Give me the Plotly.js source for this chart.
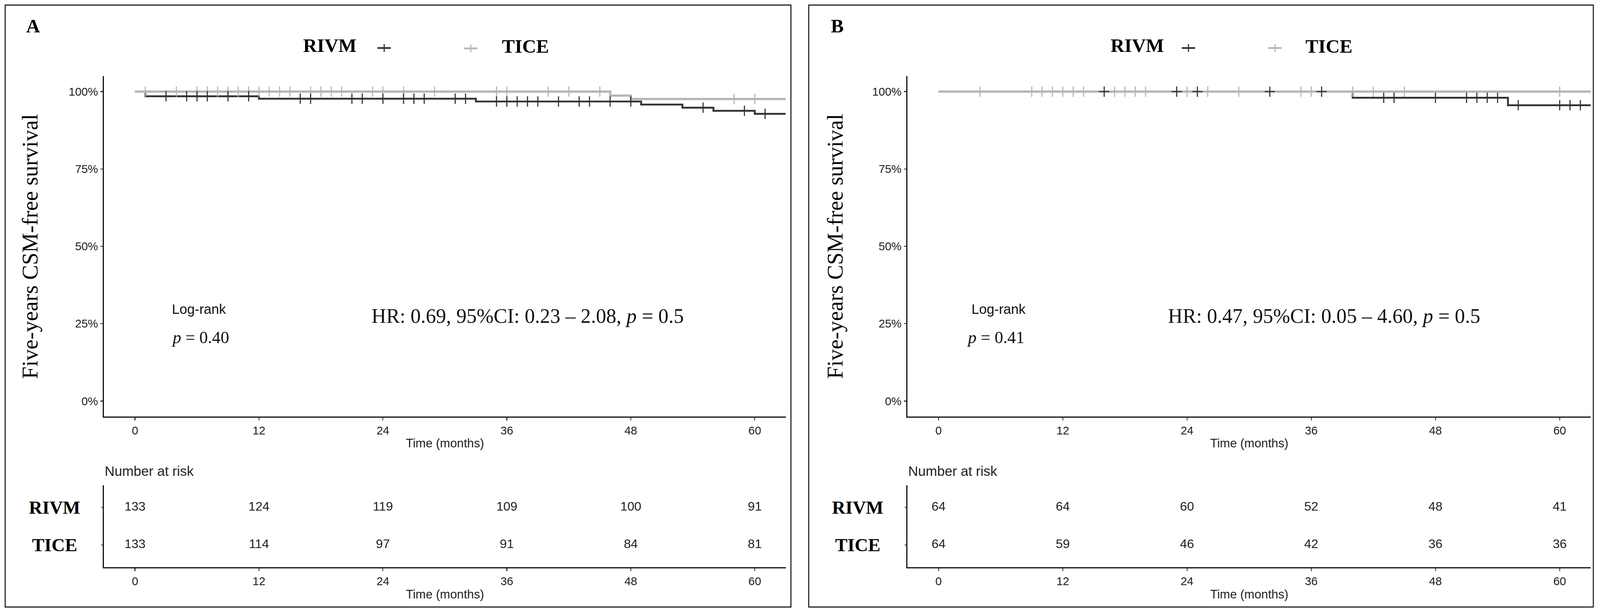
<!DOCTYPE html>
<html>
<head>
<meta charset="utf-8">
<script src="https://cdn.plot.ly/plotly-3.0.1.min.js"></script>
<style>html,body{margin:0;padding:0;background:#fff;overflow:hidden;}#chart{width:100vw;height:100vh;}</style>
</head>
<body>
<div id="chart"></div>
<script>
// ---------------- DATA ----------------
const groups = ["RIVM", "TICE"];
const tickMonths = [0, 12, 24, 36, 48, 60];

// Panel A: Kaplan-Meier steps (time in months, survival proportion)
const aRivmTimes = [0, 1, 12, 33, 49, 53, 56, 60, 63];
const aRivmSurv  = [1, 0.985, 0.977, 0.968, 0.958, 0.948, 0.938, 0.928, 0.928];
const aTiceTimes = [0, 46, 48, 63];
const aTiceSurv  = [1, 0.987, 0.976, 0.976];
const aRivmCensor = [3, 5, 6, 7, 9, 11, 16, 17, 21, 22, 24, 26, 27, 28, 31, 32, 35, 36, 37, 38, 39, 41, 43, 44, 46, 48, 55, 59, 61];
const aTiceCensor = [1, 4, 6, 7, 8, 9, 10, 11, 12, 13, 14, 15, 17, 18, 19, 20, 23, 24, 26, 29, 35, 36, 40, 42, 45, 58, 60];
const aRiskRivm = [133, 124, 119, 109, 100, 91];
const aRiskTice = [133, 114, 97, 91, 84, 81];
const aLogrank = "0.40";
const aHR = "HR: 0.69, 95%CI: 0.23 \u2013 2.08, <i>p</i> = 0.5";

// Panel B
const bRivmTimes = [0, 40, 55, 63];
const bRivmSurv  = [1, 0.980, 0.956, 0.956];
const bTiceTimes = [0, 63];
const bTiceSurv  = [1, 1];
const bRivmCensor = [16, 23, 25, 32, 37, 43, 44, 48, 51, 52, 53, 54, 56, 60, 61, 62];
const bTiceCensor = [4, 9, 10, 11, 12, 13, 14, 17, 18, 19, 20, 24, 26, 29, 35, 36, 40, 42, 45, 60];
const bRiskRivm = [64, 64, 60, 52, 48, 41];
const bRiskTice = [64, 59, 46, 42, 36, 36];
const bLogrank = "0.41";
const bHR = "HR: 0.47, 95%CI: 0.05 \u2013 4.60, <i>p</i> = 0.5";

// ---------------- STYLE ----------------
const RW = 4323, RH = 1578;               // reference design size
const W = window.innerWidth || RW;
const H = window.innerHeight || RH;
const S = Math.min(W / RW, H / RH);       // scale for fonts / strokes
const f = v => v * S;
const px = x => x / RW;
const py = y => 1 - y / RH;
const DARK = "#333333", LIGHT = "#b5b5b5";
const SANS = "Liberation Sans, Arial, sans-serif";
const SERIF = "Liberation Serif, Times New Roman, serif";

function survAt(times, surv, t) {
  let s = surv[0];
  for (let i = 0; i < times.length; i++) if (times[i] <= t) s = surv[i];
  return s;
}

function panelTraces(xa, ya, xt, yt, rT, rS, tT, tS, rC, tC, riskR, riskT) {
  const tr = [];
  tr.push({type: "scatter", mode: "lines", x: rT, y: rS, xaxis: xa, yaxis: ya,
    line: {shape: "hv", color: DARK, width: f(5)}, hoverinfo: "skip", showlegend: false});
  tr.push({type: "scatter", mode: "lines", x: tT, y: tS, xaxis: xa, yaxis: ya,
    line: {shape: "hv", color: LIGHT, width: f(6)}, hoverinfo: "skip", showlegend: false});
  tr.push({type: "scatter", mode: "markers", x: tC, y: tC.map(t => survAt(tT, tS, t)), xaxis: xa, yaxis: ya,
    marker: {symbol: "cross-thin", size: f(20), line: {color: LIGHT, width: f(3)}}, hoverinfo: "skip", showlegend: false});
  tr.push({type: "scatter", mode: "markers", x: rC, y: rC.map(t => survAt(rT, rS, t)), xaxis: xa, yaxis: ya,
    marker: {symbol: "cross-thin", size: f(20), line: {color: DARK, width: f(3)}}, hoverinfo: "skip", showlegend: false});
  tr.push({type: "scatter", mode: "text", x: tickMonths, y: tickMonths.map(() => 2), text: riskR.map(String),
    xaxis: xt, yaxis: yt, textfont: {family: SANS, size: f(34), color: "#222"}, hoverinfo: "skip", showlegend: false});
  tr.push({type: "scatter", mode: "text", x: tickMonths, y: tickMonths.map(() => 1), text: riskT.map(String),
    xaxis: xt, yaxis: yt, textfont: {family: SANS, size: f(34), color: "#222"}, hoverinfo: "skip", showlegend: false});
  return tr;
}

const traces = [].concat(
  panelTraces("x", "y", "x2", "y2", aRivmTimes, aRivmSurv, aTiceTimes, aTiceSurv, aRivmCensor, aTiceCensor, aRiskRivm, aRiskTice),
  panelTraces("x3", "y3", "x4", "y4", bRivmTimes, bRivmSurv, bTiceTimes, bTiceSurv, bRivmCensor, bTiceCensor, bRiskRivm, bRiskTice)
);

const mainY = [py(1067), py(195)];
const tabY = [py(1453), py(1243)];
const domA = [px(281), px(2123)];
const domB = [px(2452), px(4298)];

function xAxis(dom, anchor) {
  return {domain: dom, anchor: anchor, range: [-3, 63], tickvals: tickMonths, ticktext: tickMonths.map(String),
    showline: true, linecolor: "#111", linewidth: f(3), ticks: "outside", ticklen: f(8), tickwidth: f(2.5), tickcolor: "#333",
    showgrid: false, zeroline: false, tickfont: {family: SANS, size: f(31), color: "#222"}, fixedrange: true};
}
function yMain(anchor) {
  return {domain: mainY, anchor: anchor, range: [-0.05, 1.05], tickvals: [0, 0.25, 0.5, 0.75, 1],
    ticktext: ["0%", "25%", "50%", "75%", "100%"], showline: true, linecolor: "#111", linewidth: f(3),
    ticks: "outside", ticklen: f(7), tickwidth: f(2.5), tickcolor: "#333", showgrid: false, zeroline: false,
    tickfont: {family: SANS, size: f(31), color: "#222"}, fixedrange: true};
}
function yTab(anchor) {
  return {domain: tabY, anchor: anchor, range: [0.4, 2.6], tickvals: [1, 2], showticklabels: false,
    showline: true, linecolor: "#111", linewidth: f(3), ticks: "outside", ticklen: f(5), tickwidth: f(2), tickcolor: "#333",
    showgrid: false, zeroline: false, fixedrange: true};
}

const ann = [];
function txt(x, y, text, size, family, extra) {
  ann.push(Object.assign({xref: "paper", yref: "paper", x: px(x), y: py(y), text: text, showarrow: false,
    xanchor: "center", yanchor: "middle", font: {family: family, size: f(size), color: "#000"}}, extra || {}));
}
function panelText(off, cx, yRef, xRef, logrank, hr, hrX, lrX, pX, txtR, txtT, letter, letterX, yTitleX) {
  txt(letterX, 66, "<b>" + letter + "</b>", 52, SERIF);
  txt(txtR, 116, "<b>" + groups[0] + "</b>", 52, SERIF);
  txt(txtT, 119, "<b>" + groups[1] + "</b>", 52, SERIF);
  txt(yTitleX, 631, "Five-years CSM-free survival", 60, SERIF, {textangle: -90});
  ann.push({xref: xRef, yref: yRef, x: lrX, y: 0.298, text: "Log-rank", showarrow: false, xanchor: "center", yanchor: "middle",
    font: {family: SANS, size: f(37), color: "#111"}});
  ann.push({xref: xRef, yref: yRef, x: pX, y: 0.206, text: "<i>p</i> = " + logrank, showarrow: false, xanchor: "center", yanchor: "middle",
    font: {family: SERIF, size: f(46), color: "#111"}});
  ann.push({xref: xRef, yref: yRef, x: hrX, y: 0.275, text: hr, showarrow: false, xanchor: "center", yanchor: "middle",
    font: {family: SERIF, size: f(55), color: "#111"}});
  txt(cx, 1135, "Time (months)", 33, SANS, {font: {family: SANS, size: f(33), color: "#222"}});
  txt(cx, 1522, "Time (months)", 33, SANS, {font: {family: SANS, size: f(33), color: "#222"}});
  txt(off, 1206, "Number at risk", 37, SANS, {xanchor: "left", font: {family: SANS, size: f(37), color: "#222"}});
}
panelText(281, 1202, "y", "x", aLogrank, aHR, 38.0, 6.2, 6.3, 891, 1420, "A", 90, 80);
panelText(2452, 3375, "y3", "x3", bLogrank, bHR, 37.25, 5.8, 5.5, 3073, 3591, "B", 2262, 2255);

// row labels of risk tables
[["y2", 148], ["y4", 2318]].forEach(([yr, x]) => {
  groups.forEach((g, i) => {
    ann.push({xref: "paper", yref: yr, x: px(x), y: 2 - i, text: "<b>" + g + "</b>", showarrow: false,
      xanchor: "center", yanchor: "middle", font: {family: SERIF, size: f(50), color: "#000"}});
  });
});

// shapes: panel frames and legend keys
const shapes = [];
function rect(x0, y0, x1, y1) {
  shapes.push({type: "rect", xref: "paper", yref: "paper", x0: px(x0), x1: px(x1), y0: py(y1), y1: py(y0),
    line: {color: "#222", width: f(3)}, fillcolor: "rgba(0,0,0,0)"});
}
rect(14, 13, 2137, 1555);
rect(2185, 13, 4305, 1555);
function key(cx, cy, color) {
  shapes.push({type: "line", xref: "paper", yref: "paper", x0: px(cx - 18), x1: px(cx + 18), y0: py(cy), y1: py(cy),
    line: {color: color, width: f(5)}});
  shapes.push({type: "line", xref: "paper", yref: "paper", x0: px(cx), x1: px(cx), y0: py(cy - 10), y1: py(cy + 10),
    line: {color: color, width: f(3)}});
}
key(1038, 123, DARK); key(1272, 124, LIGHT);
key(3211, 123, DARK); key(3445, 123, LIGHT);

const layout = {
  width: W, height: H, margin: {l: 0, r: 0, t: 0, b: 0}, paper_bgcolor: "#fff", plot_bgcolor: "rgba(0,0,0,0)",
  showlegend: false,
  xaxis: xAxis(domA, "y"), yaxis: yMain("x"),
  xaxis2: xAxis(domA, "y2"), yaxis2: yTab("x2"),
  xaxis3: xAxis(domB, "y3"), yaxis3: yMain("x3"),
  xaxis4: xAxis(domB, "y4"), yaxis4: yTab("x4"),
  annotations: ann, shapes: shapes
};

Plotly.newPlot("chart", traces, layout, {staticPlot: true, displayModeBar: false});
</script>
</body>
</html>
